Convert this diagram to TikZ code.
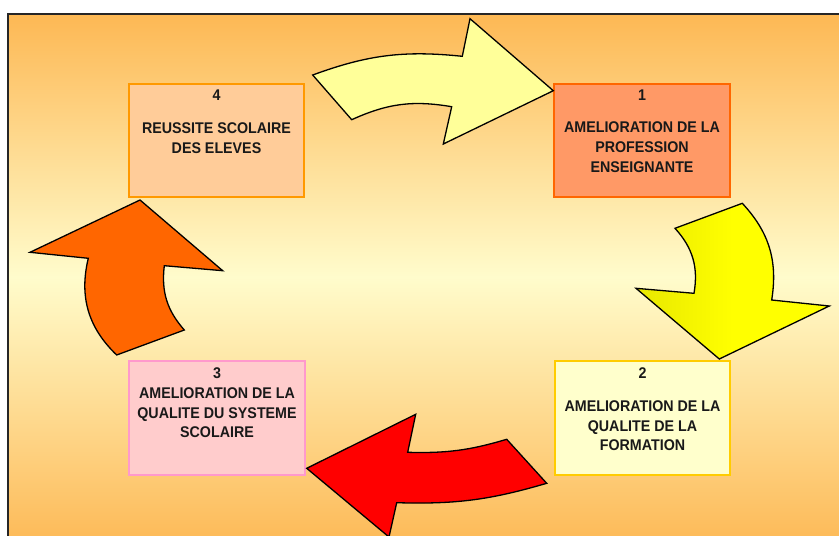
\documentclass[tikz,border=0pt]{standalone}
\usepackage{fontspec}
\setmainfont{Liberation Sans}
\newfontfamily\boxfont[FakeStretch=0.92]{Liberation Sans}
\definecolor{bgorange}{RGB}{253,184,84}
\definecolor{bgpale}{RGB}{255,252,204}
\definecolor{cA}{HTML}{FFFF99}
\definecolor{cB}{HTML}{FFFF00}
\definecolor{cBl}{RGB}{232,232,0}
\definecolor{cC}{HTML}{FF0000}
\definecolor{cD}{HTML}{FF6600}
\definecolor{fillone}{HTML}{FF9966}\definecolor{drawone}{HTML}{FF6600}
\definecolor{filltwo}{HTML}{FFFFCC}\definecolor{drawtwo}{HTML}{FFCC00}
\definecolor{fillthree}{HTML}{FFCCCC}\definecolor{drawthree}{HTML}{FF99CC}
\definecolor{fillfour}{HTML}{FFCC99}\definecolor{drawfour}{HTML}{FF9900}
\begin{document}
\begin{tikzpicture}[x=1pt,y=-1pt,
  box/.style={rectangle, line width=2pt, inner sep=0pt},
  lbl/.style={font=\boxfont\bfseries\fontsize{15.5}{19.5}\selectfont, anchor=base, inner sep=0pt, text=black!90},
  arr/.style={draw=black, line width=1.3pt, line join=miter}]
\useasboundingbox (0,0) rectangle (839,536);
\clip (0,0) rectangle (839,536);
\fill[white] (0,0) rectangle (839,536);
% background gradient
\shade[top color=bgorange, bottom color=bgpale] (8,14) rectangle (850,277);
\shade[top color=bgpale, bottom color=bgorange] (8,277) rectangle (850,550);
\draw[line width=1.5pt, black!85] (8,550) -- (8,14) -- (850,14);
% boxes
\node[box, fill=fillfour, draw=drawfour, minimum width=175pt, minimum height=113pt] (b4) at (216.5,140.5) {};
\node[box, fill=fillone, draw=drawone, minimum width=176pt, minimum height=113pt] (b1) at (642,140.5) {};
\node[box, fill=fillthree, draw=drawthree, minimum width=176pt, minimum height=114pt] (b3) at (217,418) {};
\node[box, fill=filltwo, draw=drawtwo, minimum width=175pt, minimum height=114pt] (b2) at (642.5,418) {};
% texts box 4
\node[lbl] (t4n) at (216.5,100) {4};
\node[lbl] (t4a) at (216.5,133.7) {REUSSITE SCOLAIRE};
\node[lbl] (t4b) at (216.5,153) {DES ELEVES};
% texts box 1
\node[lbl] (t1n) at (642,100) {1};
\node[lbl] (t1a) at (642,132.7) {AMELIORATION DE LA};
\node[lbl] (t1b) at (642,152.7) {PROFESSION};
\node[lbl] (t1c) at (642,172) {ENSEIGNANTE};
% texts box 3
\node[lbl] (t3n) at (217,378.3) {3};
\node[lbl] (t3a) at (217,398.3) {AMELIORATION DE LA};
\node[lbl] (t3b) at (217,418.3) {QUALITE DU SYSTEME};
\node[lbl] (t3c) at (217,437.7) {SCOLAIRE};
% texts box 2
\node[lbl] (t2n) at (642.5,378.3) {2};
\node[lbl] (t2a) at (642.5,411.7) {AMELIORATION DE LA};
\node[lbl] (t2b) at (642.5,431.7) {QUALITE DE LA};
\node[lbl] (t2c) at (642.5,450.7) {FORMATION};
% arrow 4 -> 1 (top)
\draw[arr, fill=cA] (312.7,75) to[bend left=13] (462.3,56.3) -- (470,18.7) -- (553.3,90.7)
  -- (443.3,144) -- (451.7,106.7) to[bend right=17] (351.7,119.7) -- cycle;
% arrow 1 -> 2 (right)
\draw[arr, left color=cBl, right color=cB, middle color=cB] (675,228.3) -- (742.3,203.3) to[bend left=26] (771.7,300)
  -- (829.3,306) -- (719.3,359) -- (636,288.3) -- (694,293.3) to[bend right=26] (675,228.3) -- cycle;
% arrow 2 -> 3 (bottom)
\draw[arr, fill=cC] (506.7,439.3) -- (546.7,483.3) to[bend left=9] (396.7,502.7) -- (389,537)
  -- (306.7,468.3) -- (415.7,414.3) -- (407.7,452.3) to[bend right=9] (506.7,439.3) -- cycle;
% arrow 3 -> 4 (left)
\draw[arr, fill=cD] (116.7,355) -- (184.3,330) to[bend left=24] (164.3,265.7) -- (222.7,270.7)
  -- (140,200) -- (30,252.3) -- (88.3,258.3) to[bend right=30] (116.7,355) -- cycle;
\end{tikzpicture}
\end{document}
